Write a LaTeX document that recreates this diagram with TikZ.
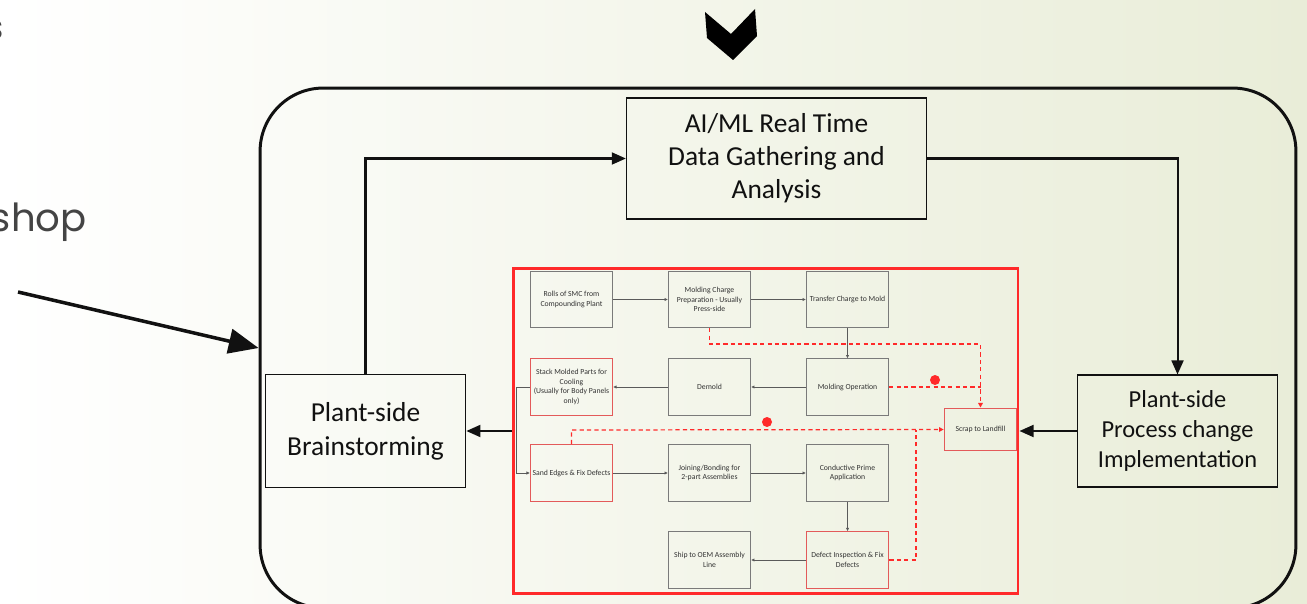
\documentclass[tikz,border=0pt]{standalone}
\usepackage{fontspec}
\setmainfont{Carlito}
\newfontfamily\gothic{Poppins}
\usetikzlibrary{arrows.meta,shadings}

% one drawing unit = 0.02cm
\def\u{0.5669pt}

\definecolor{ink}{HTML}{111111}
\definecolor{flowgray}{HTML}{5A5A5A}
\definecolor{boxgray}{HTML}{7A7A7A}
\definecolor{txtgray}{HTML}{333333}
\definecolor{scrapred}{HTML}{FF2A2A}
\definecolor{softred}{HTML}{E35A5A}
\definecolor{slidetext}{HTML}{444444}

\tikzset{
  bigbox/.style={draw=ink, line width=0.85pt, fill=none, inner sep=0pt,
    align=center, text=ink},
  bigflow/.style={draw=ink, line width=1.15pt,
    -{Triangle[length=8pt,width=6.8pt]}},
  proc/.style={draw=boxgray, line width=0.45pt, inner sep=0pt,
    minimum width=83*\u, minimum height=57*\u, align=center, text=txtgray,
    font=\fontsize{4.4pt}{5.4pt}\selectfont},
  procred/.style={proc, draw=softred, line width=0.6pt},
  flow/.style={draw=flowgray, line width=0.4pt,
    -{Triangle[length=1.8pt,width=1.6pt]}},
  scrapflow/.style={draw=scrapred, line width=0.7pt, dash pattern=on 2.4pt off 1.8pt},
  scraphead/.style={scrapflow, -{Triangle[length=2.6pt,width=2.6pt]}},
  scrapdot/.style={fill=scrapred, draw=none},
}

\begin{document}
\begin{tikzpicture}[x=0.02cm, y=-0.02cm]
  % page and slide background
  \useasboundingbox (0,0) rectangle (1307,604);
  \shade[left color=white, right color={rgb,255:red,233;green,237;blue,216}]
    (0,0) rectangle (1307,604);

  % slide text running in from the left edge
  \node[anchor=east, inner sep=0pt, font=\gothic\fontsize{20pt}{24pt}\selectfont,
        text=slidetext] (word1) at (4,30) {s};
  \node[anchor=east, inner sep=0pt, font=\gothic\fontsize{22pt}{26pt}\selectfont,
        text=slidetext] (word2) at (87,222) {shop};

  % down chevron
  \fill[black] (705,12) -- (731,34) -- (755,9) -- (757,36) -- (733,60) -- (707,38) -- cycle;

  % outer loop frame
  \node[draw=ink, line width=1.7pt, rounded corners=36pt, minimum width=1040*\u,
        minimum height=522*\u, inner sep=0pt] (loop) at (778,348) {};

  % pointer into the loop
  \coordinate (tail) at (18,292);
  \draw[ink, line width=2pt, -{Triangle[length=17pt,width=14pt]}] (tail) -- (loop.west);

  % main boxes
  \node[bigbox, minimum width=301*\u, minimum height=121*\u,
        font=\fontsize{15.6pt}{18.7pt}\selectfont] (ai) at (776.5,158.5)
        {AI/ML Real Time\\Data Gathering and\\Analysis};
  \node[bigbox, minimum width=201*\u, minimum height=113*\u,
        font=\fontsize{15.6pt}{19.3pt}\selectfont] (brain) at (365.5,431)
        {Plant-side\\Brainstorming};
  \node[bigbox, minimum width=201*\u, minimum height=112*\u,
        font=\fontsize{13.9pt}{17.3pt}\selectfont] (impl) at (1177.5,431)
        {Plant-side\\Process change\\Implementation};

  % red frame around the process flow
  \node[draw=scrapred, line width=1.7pt, minimum width=507*\u, minimum height=326*\u,
        inner sep=0pt] (frame) at (765.5,431) {};

  % process flow boxes
  \node[proc] (rolls)    at (571.5,299.5) {Rolls of SMC from\\Compounding Plant};
  \node[proc] (prep)     at (709.5,299.5) {Molding Charge\\Preparation - Usually\\Press-side};
  \node[proc] (transfer) at (847.5,299.5) {Transfer Charge to Mold};
  \node[procred] (stack) at (571.5,387) {Stack Molded Parts for\\Cooling\\(Usually for Body Panels\\only)};
  \node[proc] (demold)   at (709.5,387) {Demold};
  \node[proc] (molding)  at (847.5,387) {Molding Operation};
  \node[procred, minimum width=73*\u, minimum height=43*\u] (scrap) at (980.5,429.5) {Scrap to Landfill};
  \node[procred] (sand)  at (571.5,473) {Sand Edges \& Fix Defects};
  \node[proc] (join)     at (709.5,473) {Joining/Bonding for\\2-part Assemblies};
  \node[proc] (prime)    at (847.5,473) {Conductive Prime\\Application};
  \node[proc] (ship)     at (709.5,560) {Ship to OEM Assembly\\Line};
  \node[procred] (inspect) at (847.5,560) {Defect Inspection \& Fix\\Defects};

  % process flow connectors
  \draw[flow] (rolls) -- (prep);
  \draw[flow] (prep) -- (transfer);
  \draw[flow] (transfer) -- (molding);
  \draw[flow] (molding) -- (demold);
  \draw[flow] (demold) -- (stack);
  \draw[flow] (stack.west) -- (516,387) -- (516,473) -- (sand.west);
  \draw[flow] (sand) -- (join);
  \draw[flow] (join) -- (prime);
  \draw[flow] (prime) -- (inspect);
  \draw[flow] (inspect) -- (ship);

  % scrap paths
  \draw[scraphead] (prep.south) -- (709.5,344) -- (980.5,344) -- (scrap.north);
  \draw[scrapflow] (molding.east) -- (980.5,387);
  \draw[scraphead] (sand.north) -- (571.5,430) -- (scrap.west);
  \draw[scrapflow] (inspect.east) -- (916,560) -- (916,430);
  \fill[scrapdot] (935,380) circle (5);
  \fill[scrapdot] (767,422) circle (5);

  % loop connectors
  \draw[bigflow] (brain.north) -- (brain.north |- ai.west) -- (ai.west);
  \draw[bigflow] (ai.east) -- (ai.east -| impl.north) -- (impl.north);
  \draw[bigflow] (frame.west) -- (brain.east);
  \draw[bigflow] (impl.west) -- (frame.east);
\end{tikzpicture}
\end{document}
